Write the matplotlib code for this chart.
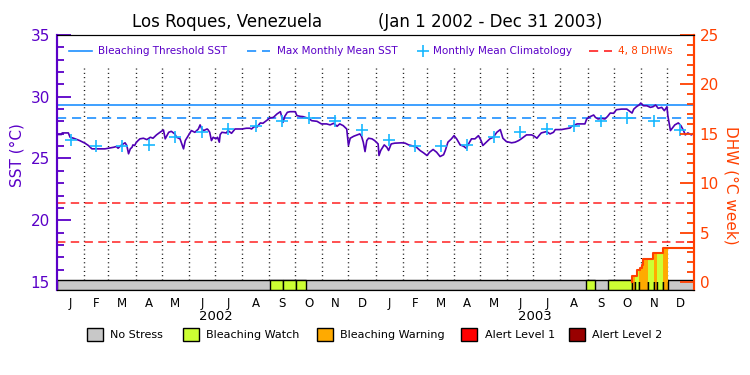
import numpy as np
import matplotlib
matplotlib.use("Agg")
import matplotlib.pyplot as plt
from matplotlib.patches import Rectangle
from matplotlib.lines import Line2D
import matplotlib.transforms as mtransforms

# ---- data (x = days since 1 Jan 2002) ----
sst_days = [0, 5, 6, 13, 15, 19, 26, 32, 36, 40, 46, 51, 55, 59, 65, 68, 70, 74, 78, 80,
            82, 84, 86, 87, 89, 91, 95, 99, 103, 107, 110, 114, 118, 122, 124, 128, 131, 135,
            137, 141, 145, 147, 151, 154, 158, 162, 164, 166, 168, 172, 173, 175, 177, 179,
            182, 184, 186, 187, 189, 194, 196, 200, 204, 212, 217, 221, 223, 226, 229, 233,
            236, 240, 244, 248, 252, 256, 258, 259, 261, 264, 267, 273, 275, 279, 282, 288,
            292, 298, 303, 309, 313, 317, 321, 324, 328, 332, 334, 336, 340, 344, 347, 349,
            351, 353, 355, 357, 361, 364, 368, 369, 371, 375, 378, 380, 383, 387, 395, 399,
            403, 406, 412, 416, 420, 424, 427, 431, 435, 439, 443, 445, 448, 452, 455, 458,
            462, 466, 469, 471, 475, 479, 483, 486, 488, 492, 496, 500, 504, 508, 511, 515,
            521, 525, 529, 532, 538, 544, 547, 550, 553, 555, 561, 565, 569, 571, 578, 582,
            588, 590, 596, 605, 607, 611, 615, 617, 620, 624, 628, 631, 634, 638, 641, 647,
            653, 657, 659, 661, 664, 667, 669, 672, 676, 680, 683, 686, 689, 693, 696, 699,
            700, 703, 705, 708, 712, 715, 718, 720, 723, 727, 730]
sst_vals = [26.94, 26.94, 27.07, 27.07, 26.72, 26.64, 26.45, 26.24, 26.05, 25.78, 25.78, 25.78,
            25.78, 25.83, 25.91, 25.97, 25.83, 26.10, 26.27, 26.05, 25.38, 25.78, 25.91, 26.10,
            26.05, 26.32, 26.59, 26.64, 26.53, 26.72, 26.64, 26.91, 27.12, 27.31, 26.59, 27.12,
            27.20, 26.99, 26.72, 26.59, 25.78, 26.45, 26.91, 27.26, 27.12, 27.39, 27.72, 27.39,
            27.26, 27.39, 27.34, 27.12, 26.45, 26.72, 26.59, 26.72, 26.32, 26.94, 27.12, 27.07,
            27.26, 27.04, 27.39, 27.39, 27.45, 27.45, 27.39, 27.58, 27.53, 27.88, 27.85, 28.06,
            28.28, 28.33, 28.60, 28.79, 28.25, 27.93, 28.41, 28.74, 28.79, 28.79, 28.47, 28.41,
            28.39, 28.25, 28.06, 28.01, 27.80, 27.80, 27.72, 27.85, 27.61, 27.80, 27.66, 27.39,
            26.05, 26.64, 26.80, 26.91, 26.99, 26.80, 26.32, 25.56, 26.45, 26.64, 26.59, 26.45,
            26.18, 25.24, 25.65, 26.10, 25.91, 25.65, 26.18, 26.24, 26.27, 26.24, 26.10, 26.05,
            25.91, 25.65, 25.46, 25.24, 25.51, 25.73, 25.51, 25.16, 25.30, 25.65, 26.32, 26.59,
            26.85, 26.59, 26.10, 25.99, 25.83, 26.10, 26.59, 26.59, 26.85, 26.45, 26.05, 26.32,
            26.59, 26.72, 27.12, 27.34, 26.64, 26.37, 26.27, 26.32, 26.45, 26.59, 26.91, 26.91,
            26.80, 26.64, 26.91, 27.07, 27.18, 26.99, 27.12, 27.34, 27.34, 27.39, 27.47, 27.61,
            27.80, 27.80, 28.20, 28.39, 28.52, 28.33, 28.20, 28.25, 28.20, 28.41, 28.68, 28.66,
            28.95, 29.00, 29.00, 28.79, 28.68, 29.00, 29.19, 29.33, 29.49, 29.27, 29.27, 29.14,
            29.19, 29.33, 29.06, 29.14, 28.87, 29.19, 28.47, 27.26, 27.44, 27.72, 27.88, 27.66,
            27.26, 26.91, 27.07, 26.91, 27.07]

clim_vals = [26.50, 26.05, 26.05, 26.10, 26.72, 27.15, 27.37, 27.66, 28.06, 28.30, 28.06, 27.32]
mmm = 28.3
threshold = 29.3
dhw_lines = [4, 8]

dhw_days = [659, 659, 665, 668, 670, 672, 683, 694, 730]
dhw_vals = [0.0, 0.58, 1.22, 1.46, 1.73, 2.37, 2.91, 3.42, 3.42]

# stress periods: start day, end day, level (1 = watch, 2 = warning)
stress_start = [244, 259, 274, 606, 631, 659, 662.4, 667, 677, 684, 688, 694]
stress_end = [259, 274, 285, 617, 659, 662.4, 667, 677, 684, 688, 694, 700]
stress_level = [1, 1, 1, 1, 1, 2, 1, 2, 1, 2, 1, 2]

month_letters = ["J", "F", "M", "A", "M", "J", "J", "A", "S", "O", "N", "D"]
years = ["2002", "2003"]

legend_names = ["No Stress", "Bleaching Watch", "Bleaching Warning", "Alert Level 1", "Alert Level 2"]
stress_colors = ["#c8c8c8", "#ccff33", "#ffaa00", "#ff0000", "#990000"]

PURPLE = "#5a00c8"
SSTLINE = "#5000b4"
BLUE = "#1e90ff"
CYAN = "#18b8ff"
ORANGE = "#ff4000"
RED = "#ff2020"

# month starts as day offsets
months = np.arange("2002-01", "2004-01", dtype="datetime64[M]")
month_start = (months.astype("datetime64[D]") - np.datetime64("2002-01-01")).astype(int)
month_end = np.append(month_start[1:], 730)
month_mid = (month_start + month_end) / 2.0

fig = plt.figure(figsize=(7.5, 3.75), dpi=100)
W, H = 750.0, 375.0
ax = fig.add_axes([57 / W, 1 - 290 / H, (694 - 57) / W, (290 - 35) / H])
ax2 = ax.twinx()

sst_lo, sst_hi = 14.35, 35.0
ax.set_xlim(0, 730)
ax.set_ylim(sst_lo, sst_hi)
ax2.set_ylim((sst_lo - 15) / 0.8, (sst_hi - 15) / 0.8)
bar_top = 15.13

# month separators
ax.vlines(month_start[1:], bar_top, 32.6, colors="black", linestyles=(0, (0.7, 2.4)),
          linewidth=1.0, zorder=1)

# reference lines
ax.axhline(threshold, color=BLUE, lw=1.2, zorder=2)
ax.axhline(mmm, color=BLUE, lw=1.2, ls=(0, (5.5, 3.5)), zorder=2)
for d in dhw_lines:
    ax2.axhline(d, color=RED, lw=1.1, ls=(0, (5.5, 3.5)), zorder=2)

# SST and climatology
ax.plot(sst_days, sst_vals, color=SSTLINE, lw=1.2, zorder=4)
ax.plot(month_mid, clim_vals * 2, ls="none", marker="+", ms=9, mew=1.2, color=CYAN, zorder=5)

# stress bar
ax.add_patch(Rectangle((0, sst_lo), 730, bar_top - sst_lo, facecolor=stress_colors[0],
                       edgecolor="black", lw=1.0, zorder=6))
for s, e, lev in zip(stress_start, stress_end, stress_level):
    ax.add_patch(Rectangle((s, sst_lo), e - s, bar_top - sst_lo, facecolor=stress_colors[lev],
                           edgecolor="black", lw=1.0, zorder=7))

# DHW fill coloured by stress level
dd = np.array(dhw_days, dtype=float)
dv = np.array(dhw_vals)
def dhw_at(x):
    i = np.searchsorted(dd, x, side="right") - 1
    return dv[np.clip(i, 0, len(dv) - 1)]

for s, e, lev in zip(stress_start, stress_end, stress_level):
    if e <= dd[0]:
        continue
    xs = np.concatenate(([s], dd[(dd > s) & (dd < e)], [e]))
    ys = dhw_at(xs)
    ax2.fill_between(xs, 0, ys, step="post", color=stress_colors[lev], lw=0, zorder=3)
ax2.step(dhw_days, dhw_vals, where="post", color=ORANGE, lw=1.5, zorder=4)

# axes styling
for a in (ax, ax2):
    a.spines["top"].set_color("black")
    a.spines["bottom"].set_color("black")
    a.spines["left"].set_color(PURPLE)
    a.spines["right"].set_color(ORANGE)
    a.spines["left"].set_linewidth(1.5)
    a.spines["right"].set_linewidth(1.5)

ax.set_yticks([15, 20, 25, 30, 35])
ax.set_yticks(np.arange(15, 36, 1), minor=True)
ax.tick_params(axis="y", which="major", direction="in", length=10, width=1.3,
               colors=PURPLE, labelsize=11, pad=5)
ax.tick_params(axis="y", which="minor", direction="in", length=5, width=1.3, colors=PURPLE)

ax2.set_yticks([0, 5, 10, 15, 20, 25])
ax2.set_yticks(np.arange(0, 26, 1), minor=True)
ax2.tick_params(axis="y", which="major", direction="in", length=10, width=1.3,
                colors=ORANGE, labelsize=11, pad=4)
ax2.tick_params(axis="y", which="minor", direction="in", length=5, width=1.3, colors=ORANGE)

ax.set_xticks(month_mid)
ax.set_xticklabels(month_letters * 2, fontsize=8.5)
ax.tick_params(axis="x", length=0, pad=5)
ax.set_xticks([], minor=True)

trans = mtransforms.blended_transform_factory(ax.transData, ax.transAxes)
for i, yr in enumerate(years):
    ax.text(182.5 + 365 * i, -0.105, yr, transform=trans, ha="center", va="center",
            fontsize=9.5)

# axis titles
fig.text(17 / W, 1 - 155 / H, "SST (°C)", rotation=90, ha="center", va="center",
         color=PURPLE, fontsize=11)
fig.text(731 / W, 1 - 185 / H, "DHW (°C week)", rotation=270, ha="center", va="center",
         color=ORANGE, fontsize=11)

# title
fig.text(227 / W, 1 - 22 / H, "Los Roques, Venezuela", ha="center", va="center", fontsize=12)
fig.text(490 / W, 1 - 22 / H, "(Jan 1 2002 - Dec 31 2003)", ha="center", va="center", fontsize=12)

# top legend
ly = 1 - 51 / H
def fx(p):
    return p / W
fig.add_artist(Line2D([fx(69), fx(92)], [ly, ly], color=BLUE, lw=1.2))
fig.text(fx(98), ly, "Bleaching Threshold SST", color=PURPLE, fontsize=7.5, va="center")
fig.add_artist(Line2D([fx(247), fx(270)], [ly, ly], color=BLUE, lw=1.2, ls=(0, (5.5, 3.5))))
fig.text(fx(277), ly, "Max Monthly Mean SST", color=PURPLE, fontsize=7.5, va="center")
fig.add_artist(Line2D([fx(422.7)], [ly], color=CYAN, marker="+", ms=9, mew=1.2, ls="none"))
fig.text(fx(433), ly, "Monthly Mean Climatology", color=PURPLE, fontsize=7.5, va="center")
fig.add_artist(Line2D([fx(589), fx(612)], [ly, ly], color=RED, lw=1.2, ls=(0, (5.5, 3.5))))
fig.text(fx(618), ly, "4, 8 DHWs", color=ORANGE, fontsize=7.5, va="center")

# bottom legend
box_left = [87, 183, 317, 461, 569]
text_left = [110, 206, 340, 485, 592]
by = 1 - 335 / H
for bl, tl, name, col in zip(box_left, text_left, legend_names, stress_colors):
    fig.add_artist(Rectangle((fx(bl), 1 - 341 / H), 16 / W, 13 / H, facecolor=col,
                             edgecolor="black", lw=1.0, transform=fig.transFigure))
    fig.text(fx(tl), by, name, fontsize=8, va="center")

fig.savefig("out.png", dpi=100)
